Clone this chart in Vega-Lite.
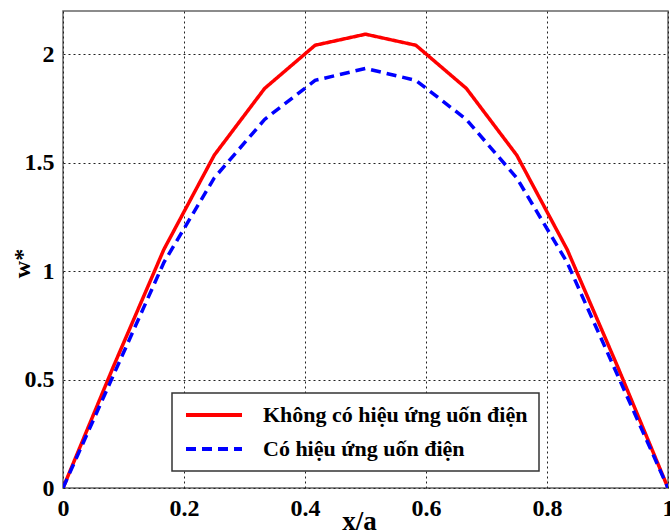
{
  "$schema": "https://vega.github.io/schema/vega-lite/v6.json",
  "autosize": "none",
  "width": 605,
  "height": 477,
  "padding": {"left": 63, "top": 11, "right": 2, "bottom": 42},
  "background": "white",
  "data": {
    "values": [
      {"x": 0, "w": 0, "s": "Không có hiệu ứng uốn điện"},
      {"x": 0.0833, "w": 0.56, "s": "Không có hiệu ứng uốn điện"},
      {"x": 0.1667, "w": 1.10, "s": "Không có hiệu ứng uốn điện"},
      {"x": 0.25, "w": 1.535, "s": "Không có hiệu ứng uốn điện"},
      {"x": 0.3333, "w": 1.843, "s": "Không có hiệu ứng uốn điện"},
      {"x": 0.4167, "w": 2.042, "s": "Không có hiệu ứng uốn điện"},
      {"x": 0.5, "w": 2.093, "s": "Không có hiệu ứng uốn điện"},
      {"x": 0.5833, "w": 2.042, "s": "Không có hiệu ứng uốn điện"},
      {"x": 0.6667, "w": 1.843, "s": "Không có hiệu ứng uốn điện"},
      {"x": 0.75, "w": 1.535, "s": "Không có hiệu ứng uốn điện"},
      {"x": 0.8333, "w": 1.10, "s": "Không có hiệu ứng uốn điện"},
      {"x": 0.9167, "w": 0.56, "s": "Không có hiệu ứng uốn điện"},
      {"x": 1, "w": 0, "s": "Không có hiệu ứng uốn điện"},
      {"x": 0, "w": 0, "s": "Có hiệu ứng uốn điện"},
      {"x": 0.0833, "w": 0.52, "s": "Có hiệu ứng uốn điện"},
      {"x": 0.1667, "w": 1.04, "s": "Có hiệu ứng uốn điện"},
      {"x": 0.25, "w": 1.43, "s": "Có hiệu ứng uốn điện"},
      {"x": 0.3333, "w": 1.70, "s": "Có hiệu ứng uốn điện"},
      {"x": 0.4167, "w": 1.88, "s": "Có hiệu ứng uốn điện"},
      {"x": 0.5, "w": 1.935, "s": "Có hiệu ứng uốn điện"},
      {"x": 0.5833, "w": 1.88, "s": "Có hiệu ứng uốn điện"},
      {"x": 0.6667, "w": 1.70, "s": "Có hiệu ứng uốn điện"},
      {"x": 0.75, "w": 1.43, "s": "Có hiệu ứng uốn điện"},
      {"x": 0.8333, "w": 1.04, "s": "Có hiệu ứng uốn điện"},
      {"x": 0.9167, "w": 0.52, "s": "Có hiệu ứng uốn điện"},
      {"x": 1, "w": 0, "s": "Có hiệu ứng uốn điện"}
    ]
  },
  "mark": {"type": "line", "strokeWidth": 3.5, "clip": true},
  "encoding": {
    "x": {
      "field": "x", "type": "quantitative",
      "scale": {"domain": [0, 1], "nice": false, "zero": false},
      "axis": {
        "values": [0, 0.2, 0.4, 0.6, 0.8, 1],
        "title": "x/a",
        "titleX": 296, "titleY": 41, "titleBaseline": "alphabetic", "titleAnchor": null, "titleAlign": "center",
        "titleFontSize": 27,
        "labelPadding": 8,
        "labelFlush": false,
        "labelExpr": "format(datum.value, '~g')"
      }
    },
    "y": {
      "field": "w", "type": "quantitative",
      "scale": {"domain": [0, 2.2], "nice": false},
      "axis": {
        "values": [0, 0.5, 1, 1.5, 2],
        "title": "w*",
        "titleX": -41, "titleY": 252, "titleAngle": -90, "titleBaseline": "middle", "titleAlign": "center", "titleAnchor": null,
        "titleFontSize": 24,
        "labelPadding": 9,
        "labelFlush": false,
        "labelExpr": "format(datum.value, '~g')"
      }
    },
    "color": {
      "field": "s", "type": "nominal",
      "scale": {"domain": ["Không có hiệu ứng uốn điện", "Có hiệu ứng uốn điện"], "range": ["#ff0000", "#0000ff"]},
      "legend": {
        "title": null,
        "orient": "none",
        "legendX": 109,
        "legendY": 382,
        "symbolType": "M-3.5,0H3.5",
        "symbolSize": 256,
        "symbolStrokeWidth": 4,
        "symbolOffset": 20,
        "labelFont": "Liberation Serif",
        "labelFontWeight": "bold",
        "labelFontSize": 22,
        "labelColor": "black",
        "labelOffset": 38,
        "labelLimit": 400,
        "padding": 11,
        "rowPadding": 12,
        "strokeColor": "#333",
        "fillColor": "white"
      }
    },
    "strokeDash": {
      "field": "s", "type": "nominal",
      "scale": {"domain": ["Không có hiệu ứng uốn điện", "Có hiệu ứng uốn điện"], "range": [[1, 0], [10, 6]]},
      "legend": null
    }
  },
  "config": {
    "view": {"stroke": "#666", "strokeWidth": 1.5},
    "legend": {"strokeWidth": 1.5},
    "axis": {
      "domain": false,
      "ticks": false,
      "grid": true,
      "gridColor": "#222",
      "gridDash": [2, 3],
      "gridWidth": 1,
      "gridOpacity": 1,
      "labelFont": "Liberation Serif",
      "labelFontWeight": "bold",
      "labelFontSize": 24,
      "labelColor": "black",
      "titleFont": "Liberation Serif",
      "titleFontWeight": "bold",
      "titleFontSize": 22,
      "titleColor": "black"
    }
  }
}
